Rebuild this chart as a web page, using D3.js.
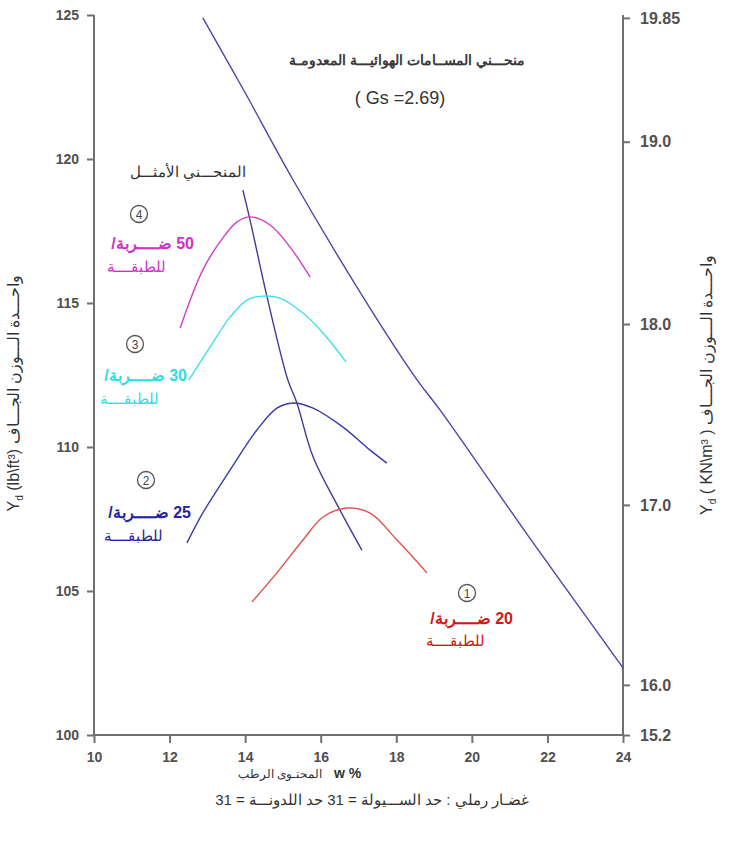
<!DOCTYPE html>
<html>
<head>
<meta charset="utf-8">
<script src="https://cdn.jsdelivr.net/npm/d3@7"></script>
<style>
  html, body { margin: 0; padding: 0; background: #fff; }
  svg { display: block; font-family: "Liberation Sans", Arial, sans-serif; }
</style>
</head>
<body>
<svg id="chart" width="729" height="843"></svg>
<script>
// Axis ticks
const wTicks = [10, 12, 14, 16, 18, 20, 22, 24];
const ydTicks = [100, 105, 110, 115, 120, 125];
const knTicks = [15.2, 16.0, 17.0, 18.0, 19.0, 19.85];
// lb/ft3 level at which each kN/m3 tick label sits on the right axis
const knAtLbft = [100, 101.74, 107.99, 114.27, 120.6, 124.9];

// Zero air voids curve (Gs = 2.69)
const zavW  = [12.88, 14.0, 15.27, 17.30, 18.55, 19.16, 21.5, 24.0];
const zavYd = [124.9, 122.3, 119.27, 114.83, 112.33, 111.28, 106.9, 102.33];

// Compaction curves, blows per layer
const b20W  = [14.18, 14.84, 15.53, 16.06, 16.69, 17.30, 18.02, 18.81];
const b20Yd = [104.62, 105.63, 106.77, 107.57, 107.88, 107.71, 106.77, 105.63];

const b25W  = [12.46, 12.88, 13.60, 14.31, 14.84, 15.27, 15.80, 16.59, 17.30, 17.75];
const b25Yd = [106.67, 107.71, 109.20, 110.59, 111.35, 111.53, 111.35, 110.69, 109.90, 109.44];

const b30W  = [12.51, 13.07, 13.60, 14.05, 14.45, 14.92, 15.53, 16.06, 16.67];
const b30Yd = [112.33, 113.47, 114.51, 115.10, 115.24, 115.17, 114.65, 113.96, 112.95];

const b50W  = [12.28, 12.88, 13.41, 13.78, 14.13, 14.66, 15.19, 15.72];
const b50Yd = [114.13, 116.15, 117.26, 117.81, 117.99, 117.71, 116.94, 115.90];

// Line of optimums
const optW  = [13.94, 14.13, 14.58, 15.13, 15.37, 15.80, 16.51, 17.09];
const optYd = [118.92, 117.88, 115.21, 112.33, 111.53, 109.65, 107.81, 106.42];

const svg = d3.select("#chart");
const mLeft = 94, mRight = 623, mTop = 15, mBottom = 735;

const x = d3.scaleLinear().domain([10, 24]).range([mLeft, mRight]);
const y = d3.scaleLinear().domain([100, 125]).range([mBottom, mTop]);
const yKn = d3.scaleLinear().domain(knTicks).range(knAtLbft.map(v => y(v)));

const axisColor = "#707070";
const tickText = "#505050";

// Left axis
const gl = svg.append("g").attr("transform", `translate(${mLeft},0)`)
  .call(d3.axisLeft(y).tickValues(ydTicks).tickSize(7).tickPadding(8).tickFormat(d3.format("d")));
// Right axis
const gr = svg.append("g").attr("transform", `translate(${mRight},0)`)
  .call(d3.axisRight(yKn).tickValues(knTicks).tickSize(7).tickPadding(10)
    .tickFormat(d => d === 19.85 ? "19.85" : d3.format(".1f")(d)));
// Bottom axis
const gb = svg.append("g").attr("transform", `translate(0,${mBottom})`)
  .call(d3.axisBottom(x).tickValues(wTicks).tickSize(8).tickPadding(9).tickFormat(d3.format("d")));

[gl, gr, gb].forEach(g => {
  g.select(".domain").attr("stroke", axisColor).attr("stroke-width", 2);
  g.selectAll(".tick line").attr("stroke", axisColor).attr("stroke-width", 2);
  g.selectAll(".tick text").attr("fill", tickText).attr("font-size", 14)
    .attr("font-weight", "bold").attr("font-family", "Liberation Sans, Arial, sans-serif");
});
gr.selectAll(".tick text").attr("font-size", 16);
gb.select(".domain").attr("d", `M${mLeft},0H${mRight}`);
gl.select(".domain").attr("d", `M0,${mTop}V${mBottom}`);
gr.select(".domain").attr("d", `M0,${mTop}V${mBottom}`);

// Curves
const line = d3.line().x(d => x(d[0])).y(d => y(d[1])).curve(d3.curveCatmullRom.alpha(0.5));
const series = [
  { w: zavW, yd: zavYd, color: "#4848a8" },
  { w: optW, yd: optYd, color: "#3c3c9c" },
  { w: b20W, yd: b20Yd, color: "#e05050" },
  { w: b25W, yd: b25Yd, color: "#3a3aa8" },
  { w: b30W, yd: b30Yd, color: "#40e0e8" },
  { w: b50W, yd: b50Yd, color: "#d040c8" }
];
series.forEach(s => {
  svg.append("path")
    .datum(d3.zip(s.w, s.yd))
    .attr("d", line)
    .attr("fill", "none")
    .attr("stroke", s.color)
    .attr("stroke-width", 1.4);
});

// Text helpers
function rtlText(tx, ty, str, opts) {
  return svg.append("text")
    .attr("x", tx).attr("y", ty)
    .attr("direction", "rtl")
    .style("direction", "rtl")
    .attr("text-anchor", opts.anchor || "middle")
    .attr("font-size", opts.size || 13)
    .attr("font-weight", opts.weight || "normal")
    .attr("fill", opts.fill || "#333")
    .text(str);
}

// Title
rtlText(407, 65, "منحـــني المســامات الهوائيـــة المعدومـة", { size: 14, weight: "bold", fill: "#3a3a3a" });
svg.append("text").attr("x", 400).attr("y", 104).attr("text-anchor", "middle")
  .attr("font-size", 18).attr("fill", "#333").text("( Gs =2.69)");

// Line of optimums label
rtlText(188, 177, "المنحـــني الأمثـــل", { size: 15, fill: "#333" });

// Blow-count labels
const blowLabels = [
  { n: 4, cx: 139, cy: 214, xr: 194, y1: 249, y2: 272, text: "50 ضــــربة/", color: "#d030c8" },
  { n: 3, cx: 135, cy: 344, xr: 187, y1: 381, y2: 404, text: "30 ضــــربة/", color: "#30dde0" },
  { n: 2, cx: 146, cy: 480, xr: 191, y1: 518, y2: 541, text: "25 ضــــربة/", color: "#2424a0" },
  { n: 1, cx: 467, cy: 593, xr: 513, y1: 624, y2: 646, text: "20 ضــــربة/", color: "#d01818" }
];
blowLabels.forEach(b => {
  svg.append("circle").attr("cx", b.cx).attr("cy", b.cy).attr("r", 8.5)
    .attr("fill", "none").attr("stroke", "#555").attr("stroke-width", 1.3);
  svg.append("text").attr("x", b.cx).attr("y", b.cy + 4.5).attr("text-anchor", "middle")
    .attr("font-size", 12).attr("fill", "#444").text(b.n);
  rtlText(b.xr, b.y1, b.text, { anchor: "start", size: 16, weight: "bold", fill: b.color });
  rtlText(b.xr - 28, b.y2, "للطبقــــة", { anchor: "start", size: 15, fill: b.color });
});

// Axis titles
svg.append("text")
  .attr("transform", `translate(19,393) rotate(-90)`)
  .attr("text-anchor", "middle").attr("font-size", 16).attr("fill", "#333")
  .html('Y<tspan font-size="10" dy="4">d</tspan><tspan dy="-4"> (lb\\ft³)  واحـــدة الـــوزن الجـــاف</tspan>');
svg.append("text")
  .attr("transform", `translate(712,385) rotate(-90)`)
  .attr("text-anchor", "middle").attr("font-size", 16).attr("fill", "#333")
  .html('Y<tspan font-size="10" dy="4">d</tspan><tspan dy="-4"> ( KN\\m³ )    واحـــدة الـــوزن الجـــاف</tspan>');

// x-axis title
rtlText(322, 778, "المحتـوى الرطب", { anchor: "start", size: 12, fill: "#333" });
svg.append("text").attr("x", 334).attr("y", 778).attr("font-size", 14).attr("font-weight", "bold")
  .attr("fill", "#333").text("w %");
rtlText(372, 805, "غضـار رملي : حد الســـيولة = 31    حد اللدونـــة = 31", { size: 15, fill: "#333" });
</script>
</body>
</html>
